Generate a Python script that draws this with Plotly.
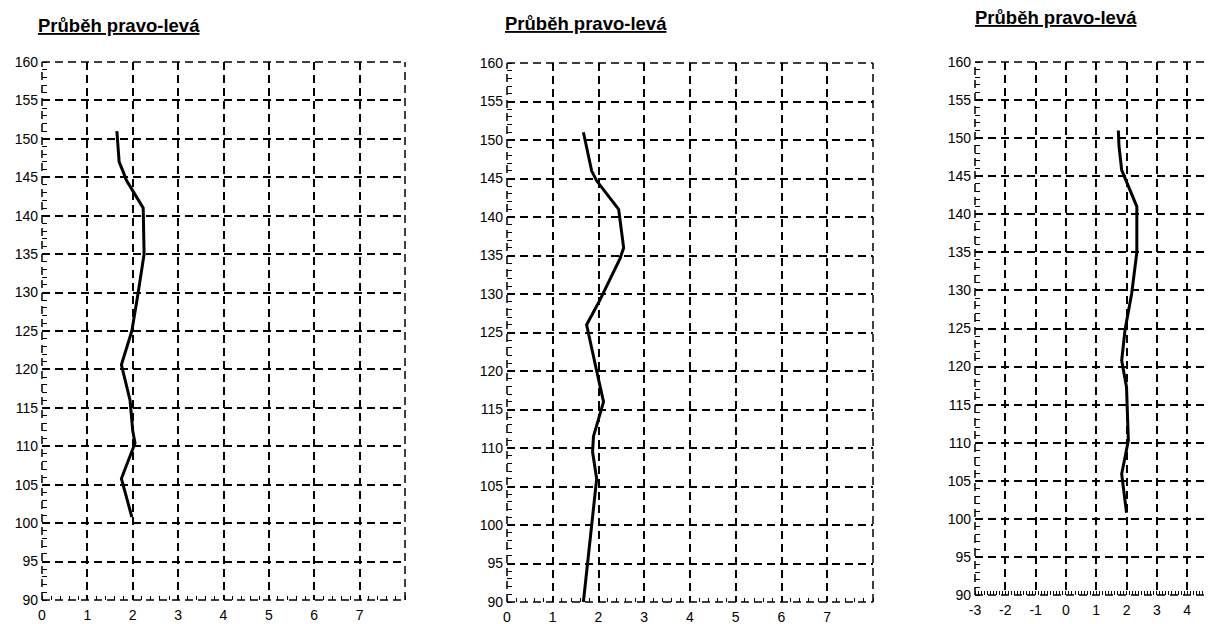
import plotly.graph_objects as go

# ---- data ----
title_text = "Průběh pravo-levá"

y_ticks = [90, 95, 100, 105, 110, 115, 120, 125, 130, 135, 140, 145, 150, 155, 160]
x_ticks_a = [0, 1, 2, 3, 4, 5, 6, 7]
x_ticks_c = [-3, -2, -1, 0, 1, 2, 3, 4]

height_1 = [151, 147, 145.7, 144.6, 141, 135, 130, 125, 120.6, 116, 112, 110.4, 105.8, 100.8]
dev_1 = [1.65, 1.7, 1.79, 1.86, 2.23, 2.25, 2.12, 1.98, 1.75, 1.94, 2.0, 2.05, 1.75, 1.98]

height_2 = [151, 146, 144.7, 141, 136, 134.6, 129.2, 126, 120, 116, 111.5, 109.5, 106, 100, 90]
dev_2 = [1.67, 1.85, 1.96, 2.44, 2.55, 2.47, 2.03, 1.74, 1.96, 2.11, 1.89, 1.87, 1.96, 1.85, 1.67]

height_3 = [151, 149, 145.8, 142.3, 141, 135, 129.6, 124.8, 120.8, 117.3, 111, 110.3, 105.9, 100.8]
dev_3 = [1.73, 1.75, 1.84, 2.22, 2.34, 2.34, 2.17, 1.95, 1.84, 2.0, 2.06, 2.06, 1.84, 2.0]

# ---- layout geometry (page pixels; the page body adds an 8px offset) ----
W, H = 1212, 624
OFF = 8
panels = [
    dict(x0=42, x1=405, y0=62, y1=600, xr=[0, 8], xt=x_ticks_a, xs=dev_1, ys=height_1, tx=36, ty=25, mirror_y=True),
    dict(x0=507, x1=873, y0=63, y1=602, xr=[0, 8], xt=x_ticks_a, xs=dev_2, ys=height_2, tx=503, ty=23, mirror_y=True),
    dict(x0=975, x1=1212, y0=62, y1=595, xr=[-3, 4.82], xt=x_ticks_c, xs=dev_3, ys=height_3, tx=973, ty=18, mirror_y=False),
]


def fx(px):
    return (px - OFF) / W


def fy(py):
    return 1 - (py - OFF) / H


fig = go.Figure()
grid_dash = "8px,5px"
tick_font = dict(family="Liberation Sans, Arial, sans-serif", size=14, color="black")

for i, p in enumerate(panels, start=1):
    xa = "x" if i == 1 else f"x{i}"
    ya = "y" if i == 1 else f"y{i}"
    fig.add_trace(go.Scatter(x=p["xs"], y=p["ys"], mode="lines",
                             line=dict(color="black", width=3),
                             xaxis=xa, yaxis=ya, showlegend=False,
                             hoverinfo="skip"))
    xkey = "xaxis" if i == 1 else f"xaxis{i}"
    ykey = "yaxis" if i == 1 else f"yaxis{i}"
    fig.layout[xkey] = dict(
        domain=[fx(p["x0"]), min(fx(p["x1"]), 1.0)], range=p["xr"], anchor=ya,
        tickvals=p["xt"], ticktext=[str(v) for v in p["xt"]],
        showgrid=True, gridcolor="black", gridwidth=1.5, griddash=grid_dash,
        zeroline=False, showline=False, ticks="", tickfont=tick_font,
        ticklabelstandoff=5,
        mirror="allticks", automargin=False,
        minor=dict(dtick=0.2 if i < 3 else 0.1, tick0=0, ticks="inside", ticklen=4,
                   tickcolor="black", tickwidth=1, showgrid=False),
        fixedrange=True,
    )
    fig.layout[ykey] = dict(
        domain=[fy(p["y1"]), fy(p["y0"])], range=[90, 160], anchor=xa,
        tickvals=y_ticks, ticktext=[str(v) for v in y_ticks],
        showgrid=True, gridcolor="black", gridwidth=1.5, griddash=grid_dash,
        zeroline=False, showline=False, ticks="", tickfont=tick_font,
        ticklabelstandoff=3,
        mirror="allticks" if p["mirror_y"] else False, automargin=False,
        minor=dict(dtick=1, tick0=0, ticks="inside", ticklen=5,
                   tickcolor="black", tickwidth=1, showgrid=False),
        fixedrange=True,
    )
    # dashed frame
    sides = [(0, 0, 1, 0), (0, 1, 1, 1), (0, 0, 0, 1)]
    if p["mirror_y"]:
        sides.append((1, 0, 1, 1))
    for (a, b, c, d) in sides:
        fig.add_shape(type="line", xref=f"{xa} domain", yref=f"{ya} domain",
                      x0=a, y0=b, x1=c, y1=d,
                      line=dict(color="black", width=1.5, dash=grid_dash))
    fig.add_annotation(text=f"<b><u>{title_text}</u></b>", xref="paper", yref="paper",
                       x=fx(p["tx"]), y=fy(p["ty"]), xanchor="left", yanchor="middle",
                       showarrow=False,
                       font=dict(family="Liberation Sans, Arial, sans-serif", size=18.5, color="black"))

fig.update_layout(width=W, height=H, margin=dict(l=0, r=0, t=0, b=0, autoexpand=False),
                  paper_bgcolor="white", plot_bgcolor="white")

fig.write_html("out.html")
